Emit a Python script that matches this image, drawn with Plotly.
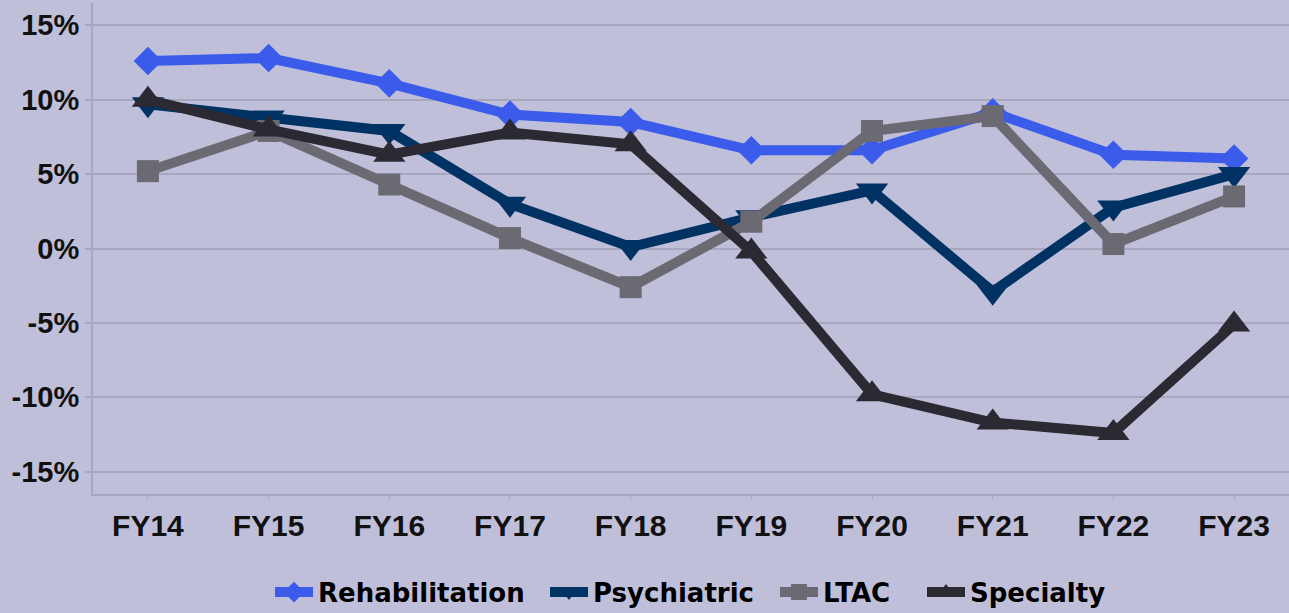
import plotly.graph_objects as go

years = ["FY14", "FY15", "FY16", "FY17", "FY18", "FY19", "FY20", "FY21", "FY22", "FY23"]
rehabilitation = [12.6, 12.8, 11.1, 9.0, 8.5, 6.6, 6.6, 9.15, 6.3, 6.05]
psychiatric = [9.7, 8.8, 7.9, 3.0, 0.1, 2.1, 3.9, -2.9, 2.75, 5.0]
ltac = [5.2, 7.9, 4.3, 0.7, -2.6, 1.8, 7.9, 8.9, 0.3, 3.5]
specialty = [10.0, 8.0, 6.3, 7.8, 7.0, -0.2, -9.8, -11.7, -12.4, -5.1]

y_ticks = [-15, -10, -5, 0, 5, 10, 15]
y_tick_labels = ["-15%", "-10%", "-5%", "0%", "5%", "10%", "15%"]

series = [
    ("Rehabilitation", rehabilitation, "#3b5bea", "diamond", 22),
    ("Psychiatric", psychiatric, "#003263", "triangle-down", 28),
    ("LTAC", ltac, "#6b6a73", "square", 22),
    ("Specialty", specialty, "#2b2a33", "triangle-up", 28),
]
legend_ids = ["legend", "legend2", "legend3", "legend4"]
legend_x_px = [270, 545, 775, 922]

fig = go.Figure()
for (name, vals, color, sym, size), lid in zip(series, legend_ids):
    fig.add_trace(go.Scatter(
        x=years, y=vals, name=name, mode="lines+markers",
        line=dict(color=color, width=10),
        marker=dict(color=color, symbol=sym, size=size, line=dict(width=0)),
        hoverinfo="skip", legend=lid,
    ))

bg = "#c0bfda"
grid = "#a8a7bf"
legend_font = dict(family="DejaVu Sans", size=26, color="#000000", weight="bold")
layout_legends = {}
for lid, px in zip(legend_ids, legend_x_px):
    layout_legends[lid] = dict(
        orientation="h", xref="container", x=px / 1289, xanchor="left",
        yref="container", y=0.034, yanchor="middle",
        font=legend_font, itemwidth=38, bgcolor="rgba(0,0,0,0)",
        borderwidth=0,
    )

fig.update_layout(
    width=1289, height=613,
    paper_bgcolor=bg, plot_bgcolor=bg,
    margin=dict(l=93, r=0, t=3, b=119),
    showlegend=True,
    font=dict(family="Liberation Sans, Arial", color="#000000"),
    **layout_legends,
)
fig.update_xaxes(
    type="category", range=[-0.455, 9.455],
    showgrid=False, showline=True, linecolor=grid, linewidth=2,
    ticks="outside", ticklen=4, tickcolor=grid, tickwidth=1,
    tickfont=dict(family="Liberation Sans, Arial", size=30, color="#111111", weight="bold"),
    zeroline=False,
)
fig.update_yaxes(
    range=[-16.5, 16.5],
    tickvals=y_ticks, ticktext=y_tick_labels,
    showgrid=True, gridcolor=grid, gridwidth=2,
    showline=True, linecolor=grid, linewidth=2,
    ticks="outside", ticklen=6, tickcolor=grid, tickwidth=2,
    tickfont=dict(family="Liberation Sans, Arial", size=29, color="#111111", weight="bold"),
    zeroline=False,
)

fig.write_html(
    "out.html",
    config={"displayModeBar": False},
    post_script="document.body.style.margin='0';document.body.style.padding='0';",
)
